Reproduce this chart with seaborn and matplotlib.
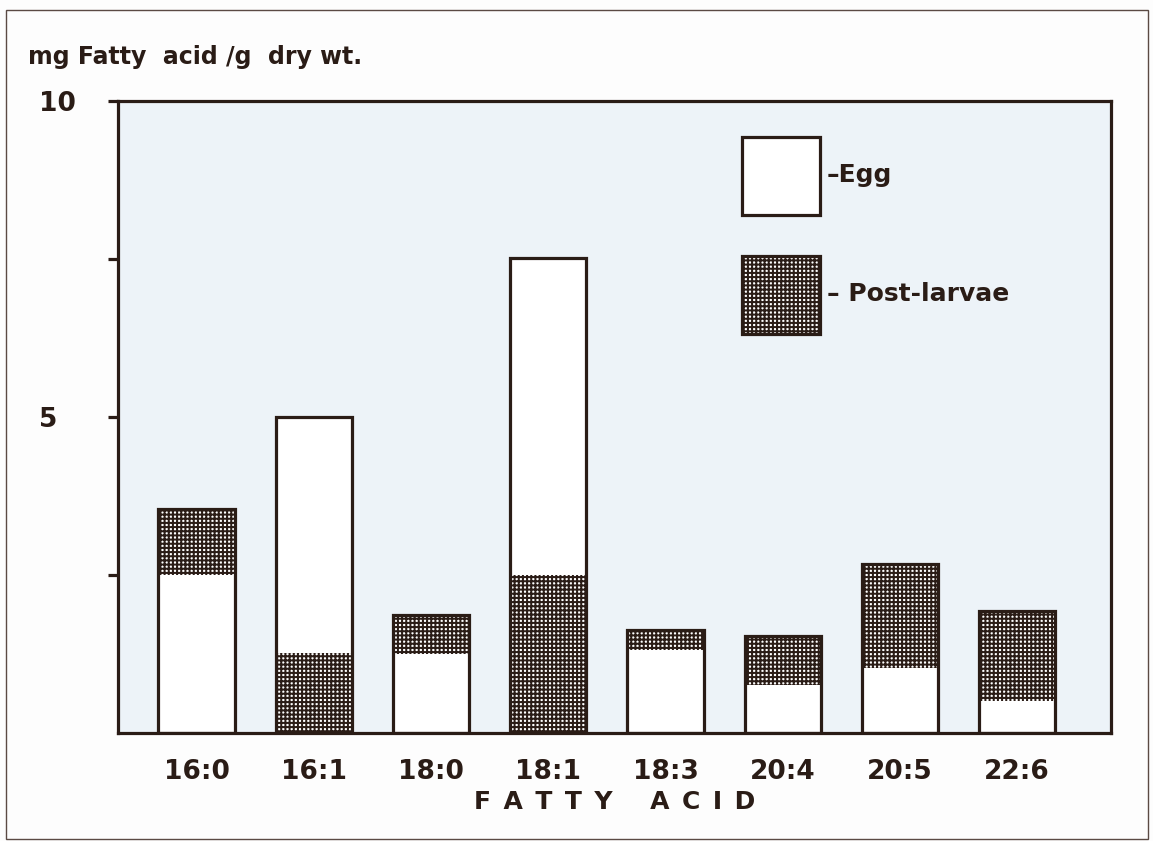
import matplotlib
matplotlib.use("Agg")
import matplotlib.pyplot as plt
import numpy as np
import seaborn as sns
from matplotlib.patches import Patch, Rectangle

# ---- data ----
acids = ["16:0", "16:1", "18:0", "18:1", "18:3", "20:4", "20:5", "22:6"]
egg = [2.50, 5.00, 1.25, 7.52, 1.31, 0.76, 1.03, 0.51]
post_larvae = [3.55, 1.27, 1.87, 2.50, 1.63, 1.53, 2.68, 1.93]
ytick_vals = [2.5, 5, 7.5, 10]
ytick_labels = ["", "5", "", "10"]

sns.set_theme(style="white")
plt.rcParams["font.family"] = ["DejaVu Sans"]
plt.rcParams["font.weight"] = "bold"
plt.rcParams["hatch.linewidth"] = 1.45

INK = "#2a1c16"
AXBG = "#edf3f8"
LW = 2.3

fig = plt.figure(figsize=(11.53, 8.41), dpi=100, facecolor="#fdfdfd")
W, H = 1153, 841
ax = fig.add_axes([118 / W, 1 - 733 / H, (1111 - 118) / W, (733 - 101) / H])
ax.set_facecolor(AXBG)

# egg bars then post-larvae bars (fills only)
sns.barplot(x=acids, y=egg, color="white", saturation=1, width=0.65,
            linewidth=0, edgecolor="none", ax=ax)
sns.barplot(x=acids, y=post_larvae, color="white", saturation=1, width=0.65,
            linewidth=0, edgecolor=INK, hatch="++++", ax=ax)
patches = ax.patches
n = len(acids)
for i in range(n):
    pe, pp = patches[i], patches[n + i]
    pp.set_linewidth(0)
    pp.set_edgecolor(INK)
    if egg[i] >= post_larvae[i]:
        pe.set_zorder(1); pp.set_zorder(2)
    else:
        pp.set_zorder(1); pe.set_zorder(2)

# outline of each combined bar
tops = np.maximum(egg, post_larvae)
ax.bar(np.arange(n), tops, width=0.65, facecolor="none", edgecolor=INK,
       linewidth=LW, zorder=3)

ax.set_xlim(-0.67, 7.8)
ax.set_ylim(0, 10)

for s in ax.spines.values():
    s.set_visible(True)
    s.set_color(INK)
    s.set_linewidth(LW)
    s.set_zorder(4)

ax.set_yticks(ytick_vals)
ax.set_yticklabels(ytick_labels)
ax.tick_params(axis="y", direction="out", length=7, width=LW, color=INK,
               pad=50, labelsize=19, labelcolor=INK, left=True)
for t in ax.get_yticklabels():
    t.set_horizontalalignment("left")
ax.tick_params(axis="x", length=0, pad=19, labelsize=19, labelcolor=INK)

E = "\u2002"
ax.set_xlabel(E.join("FATTY") + E * 3 + E.join("ACID"), fontsize=18, color=INK,
              labelpad=3, fontweight="bold")
ax.set_ylabel("")

fig.text(28 / W, 1 - 57 / H, "mg Fatty  acid /g  dry wt.", fontsize=17,
         color=INK, ha="left", va="center")

# legend
handles = [Patch(facecolor="white", edgecolor=INK, linewidth=LW),
           Patch(facecolor="white", edgecolor=INK, linewidth=LW, hatch="++++")]
leg = ax.legend(handles, ["\u2013Egg", "\u2013 Post-larvae"], loc="upper left",
                bbox_to_anchor=((742 - 118) / 993, (733 - 137) / 632),
                frameon=False, prop={"size": 18, "weight": "bold"},
                handlelength=3.1, handleheight=4.4,
                labelspacing=1.65, handletextpad=0.3, borderpad=0,
                borderaxespad=0)
for t in leg.get_texts():
    t.set_color(INK)
leg.set_zorder(5)

# outer figure frame
fig.patches.append(Rectangle((6 / W, 1 - 839 / H), (1148 - 6) / W, (839 - 10) / H,
                             transform=fig.transFigure, fill=False,
                             edgecolor="#5a4a44", linewidth=1.0))

fig.savefig("out.png", dpi=100, facecolor=fig.get_facecolor())
